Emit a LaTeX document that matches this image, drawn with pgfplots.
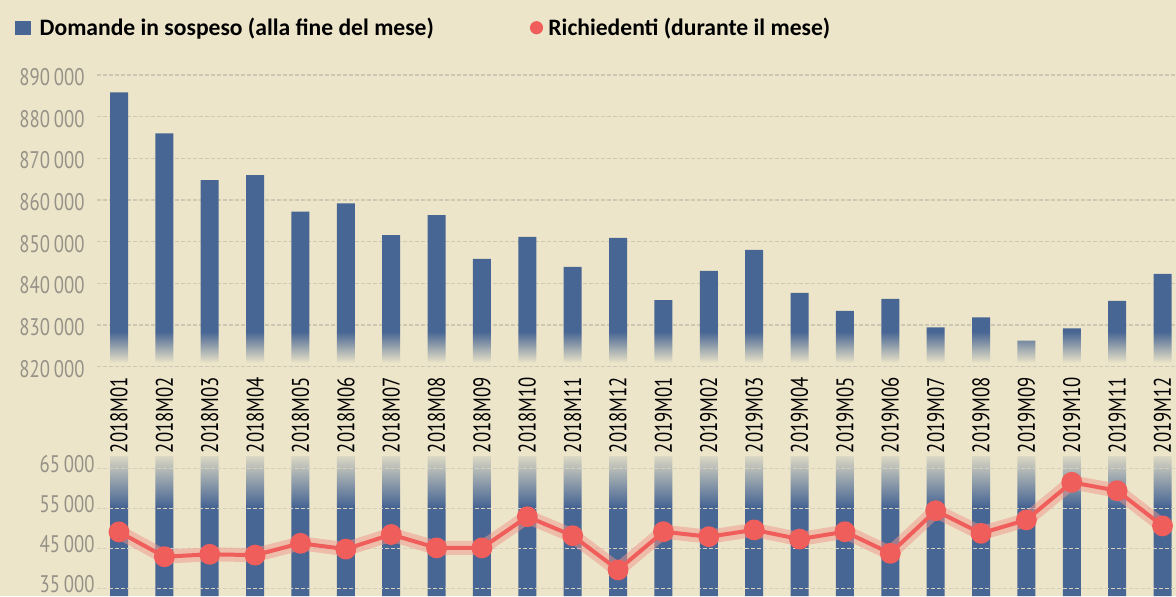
\documentclass[border=0pt]{standalone}
\usepackage{pgfplots}
\usepackage{pgfplotstable}
\pgfplotsset{compat=1.18}
\usepackage{fontspec}
\usetikzlibrary{fadings}
\setmainfont{PT Sans}
\newfontfamily\cond[FakeStretch=0.78]{PT Sans}
\newfontfamily\leg{Carlito}
\definecolor{bg}{RGB}{236,229,201}
\definecolor{barblue}{RGB}{72,102,148}
\definecolor{redl}{RGB}{240,94,92}
\definecolor{glow}{RGB}{240,150,140}
\definecolor{tickgrey}{RGB}{150,146,136}
\definecolor{gridc}{RGB}{206,199,180}
\definecolor{gridb}{RGB}{214,207,190}
\tikzfading[name=fadeup, top color=transparent!100, bottom color=transparent!0]
\tikzfading[name=fadedown, top color=transparent!0, bottom color=transparent!100]

\pgfplotstableread{
x pend
0 885850
1 876010
2 864800
3 866000
4 857200
5 859200
6 851600
7 856400
8 845850
9 851130
10 843930
11 850890
12 836000
13 842970
14 848010
15 837690
16 833370
17 836250
18 829450
19 831850
20 826240
21 829200
22 835770
23 842250
}\pending

\pgfplotstableread{
x req bar
0 49100 68075
1 42900 68075
2 43500 68075
3 43300 68075
4 46250 68075
5 44800 68075
6 48450 68075
7 45100 68075
8 45100 68075
9 52900 68075
10 48150 68075
11 39600 68075
12 49150 68075
13 47900 68075
14 49600 68075
15 47300 68075
16 49150 68075
17 43750 68075
18 54400 68075
19 48750 68075
20 52100 68075
21 61500 68075
22 59400 68075
23 50600 68075
}\requests

\newcommand\tickfont{\cond\fontsize{12}{12}\selectfont}
\newcommand\legfont{\leg\bfseries\fontsize{11.8}{13}\selectfont}

\begin{document}
\begin{tikzpicture}
\fill[bg] (0,0) rectangle (588pt,298pt);

% legend
\fill[barblue] (7.5pt,280.5pt) rectangle (15.35pt,287.5pt);
\node[anchor=base west, inner sep=0pt] at (19.65pt,280.4pt) {\legfont Domande in sospeso (alla fine del mese)};
\fill[redl] (268.25pt,284.15pt) circle (3.3pt);
\node[anchor=base west, inner sep=0pt] at (274pt,280.4pt) {\legfont Richiedenti (durante il mese)};

% top panel
\begin{axis}[at={(48.5pt,114.65pt)}, anchor=south west, scale only axis,
  width=539.5pt, height=145.85pt,
  xmin=-0.485, xmax=23.2976, ymin=820000, ymax=890000,
  y coord trafo/.code={\begingroup\pgfkeys{/pgf/fpu=true,/pgf/fpu/output format=fixed}\pgfmathparse{#1-821000}\global\let\mytrafotmp\pgfmathresult\endgroup\let\pgfmathresult\mytrafotmp},
  y coord inv trafo/.code={\begingroup\pgfkeys{/pgf/fpu=true,/pgf/fpu/output format=fixed}\pgfmathparse{#1+821000}\global\let\mytrafotmp\pgfmathresult\endgroup\let\pgfmathresult\mytrafotmp},
  scaled y ticks=false, scaled x ticks=false,
  axis line style={draw=none}, major tick length=0pt,
  ytick={820000,830000,840000,850000,860000,870000,880000,890000},
  yticklabels={820\,000,830\,000,840\,000,850\,000,860\,000,870\,000,880\,000,890\,000},
  xtick={0,...,23},
  xticklabels={2018M01,2018M02,2018M03,2018M04,2018M05,2018M06,2018M07,2018M08,2018M09,2018M10,2018M11,2018M12,2019M01,2019M02,2019M03,2019M04,2019M05,2019M06,2019M07,2019M08,2019M09,2019M10,2019M11,2019M12},
  ymajorgrids, grid style={gridc, line width=0.7pt, dash pattern=on 2pt off 1pt},
  xticklabel style={rotate=90, anchor=east, inner sep=0pt, font=\tickfont, text=black},
  yticklabel style={anchor=east, inner sep=0pt, font=\tickfont, text=tickgrey, yshift=-1pt},
  xticklabel shift=5pt, yticklabel shift=6pt,
  ]
\addplot[ybar, bar width=9pt, bar shift=0pt, fill=barblue, draw=none] table[x=x, y=pend] {\pending};
\fill[bg, path fading=fadeup] (axis cs:-1,820900) rectangle (axis cs:24,828400);
\end{axis}

% bottom panel: bars and grid
\begin{axis}[at={(48.5pt,0pt)}, anchor=south west, scale only axis,
  width=539.5pt, height=70pt,
  xmin=-0.485, xmax=23.2976, ymin=33075, ymax=68075,
  scaled y ticks=false, scaled x ticks=false,
  axis on top,
  axis line style={draw=none}, major tick length=0pt,
  ytick={35000,45000,55000,65000},
  yticklabels={35\,000,45\,000,55\,000,65\,000},
  xtick=\empty,
  ymajorgrids, grid style={gridb, line width=0.7pt, dash pattern=on 2pt off 1pt},
  yticklabel style={anchor=east, inner sep=0pt, font=\tickfont, text=tickgrey, yshift=2pt},
  yticklabel shift=1pt,
  ]
\addplot[ybar, bar width=9pt, bar shift=0pt, fill=barblue, draw=none] table[x=x, y=bar] {\requests};
\fill[bg, path fading=fadedown] (axis cs:-1,55500) rectangle (axis cs:24,69500);
\end{axis}

% bottom panel: line
\begin{axis}[at={(48.5pt,0pt)}, anchor=south west, scale only axis,
  width=539.5pt, height=70pt,
  xmin=-0.485, xmax=23.2976, ymin=33075, ymax=68075,
  axis line style={draw=none}, ticks=none, clip=false,
  ]
\addplot[glow, opacity=0.5, line width=7pt, line join=round, line cap=round, mark=none] table[x=x, y=req] {\requests};
\addplot[redl, line width=2pt, line join=round, mark=*, mark size=4.2pt, mark options={fill=redl, draw=none}] table[x=x, y=req] {\requests};
\end{axis}

\pgfresetboundingbox
\useasboundingbox (0,0) rectangle (588pt,298pt);
\end{tikzpicture}
\end{document}
